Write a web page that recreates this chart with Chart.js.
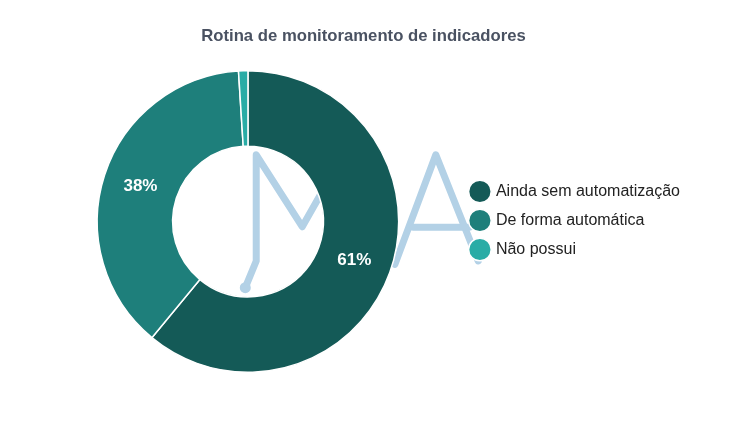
<!DOCTYPE html>
<html>
<head>
<meta charset="utf-8">
<script src="https://cdn.jsdelivr.net/npm/chart.js@4"></script>
<style>
  html, body { margin: 0; padding: 0; background: #fff; }
  #wrap { width: 730px; height: 423px; }
</style>
</head>
<body>
<div id="wrap"><canvas id="c"></canvas></div>
<script>
const categories = ['Ainda sem automatização', 'De forma automática', 'Não possui'];
const values = [61, 38, 1];
const colors = ['#145a57', '#1e7f7b', '#29aca6'];
const titleText = 'Rotina de monitoramento de indicadores';

// Decorative "MA" watermark drawn behind the chart (fractions of canvas size)
const watermarkPaths = [
  [[0.336, 0.680], [0.351, 0.617], [0.351, 0.366], [0.414, 0.536], [0.470, 0.366], [0.470, 0.617]],
  [[0.541, 0.625], [0.597, 0.366], [0.655, 0.617]],
  [[0.566, 0.537], [0.643, 0.537]]
];

const watermark = {
  id: 'watermark',
  beforeDraw(chart) {
    const ctx = chart.ctx, w = chart.width, h = chart.height;
    ctx.save();
    ctx.strokeStyle = '#b3d1e6';
    ctx.lineWidth = 7;
    ctx.lineCap = 'round';
    ctx.lineJoin = 'round';
    watermarkPaths.forEach(p => {
      ctx.beginPath();
      p.forEach((pt, i) => {
        const x = pt[0] * w, y = pt[1] * h;
        if (i === 0) ctx.moveTo(x, y); else ctx.lineTo(x, y);
      });
      ctx.stroke();
    });
    const d = watermarkPaths[0][0];
    ctx.fillStyle = '#b3d1e6';
    ctx.beginPath();
    ctx.arc(d[0] * w, d[1] * h, 5.5, 0, Math.PI * 2);
    ctx.fill();
    ctx.restore();
  }
};

const pctLabels = {
  id: 'pctLabels',
  afterDatasetsDraw(chart) {
    const ctx = chart.ctx;
    const meta = chart.getDatasetMeta(0);
    const total = values.reduce((a, b) => a + b, 0);
    ctx.save();
    ctx.fillStyle = '#ffffff';
    ctx.font = 'bold 17px "Liberation Sans", Arial, sans-serif';
    ctx.textAlign = 'center';
    ctx.textBaseline = 'middle';
    meta.data.forEach((arc, i) => {
      const pct = Math.round(values[i] / total * 100);
      if (pct < 5) return;
      const pos = arc.tooltipPosition();
      ctx.fillText(pct + '%', pos.x, pos.y);
    });
    ctx.restore();
  }
};

new Chart(document.getElementById('c'), {
  type: 'doughnut',
  data: {
    labels: categories,
    datasets: [{
      data: values,
      backgroundColor: colors,
      borderColor: '#ffffff',
      borderWidth: 1.5,
      hoverOffset: 0
    }]
  },
  options: {
    responsive: true,
    maintainAspectRatio: false,
    animation: false,
    cutout: '50%',
    layout: { padding: { left: 37, right: 40, top: 0, bottom: 50 } },
    plugins: {
      title: {
        display: true,
        text: titleText,
        color: '#4a5262',
        font: { family: '"Liberation Sans", Arial, sans-serif', size: 16.7, weight: 'bold' },
        padding: { top: 26, bottom: 24 }
      },
      legend: {
        position: 'right',
        title: {
          display: true,
          text: '',
          font: { size: 10 },
          padding: { top: 56, bottom: 0 }
        },
        labels: {
          usePointStyle: true,
          pointStyle: 'circle',
          color: '#222222',
          font: { family: '"Liberation Sans", Arial, sans-serif', size: 16 },
          padding: 13
        }
      },
      tooltip: { enabled: false }
    }
  },
  plugins: [watermark, pctLabels]
});
</script>
</body>
</html>
